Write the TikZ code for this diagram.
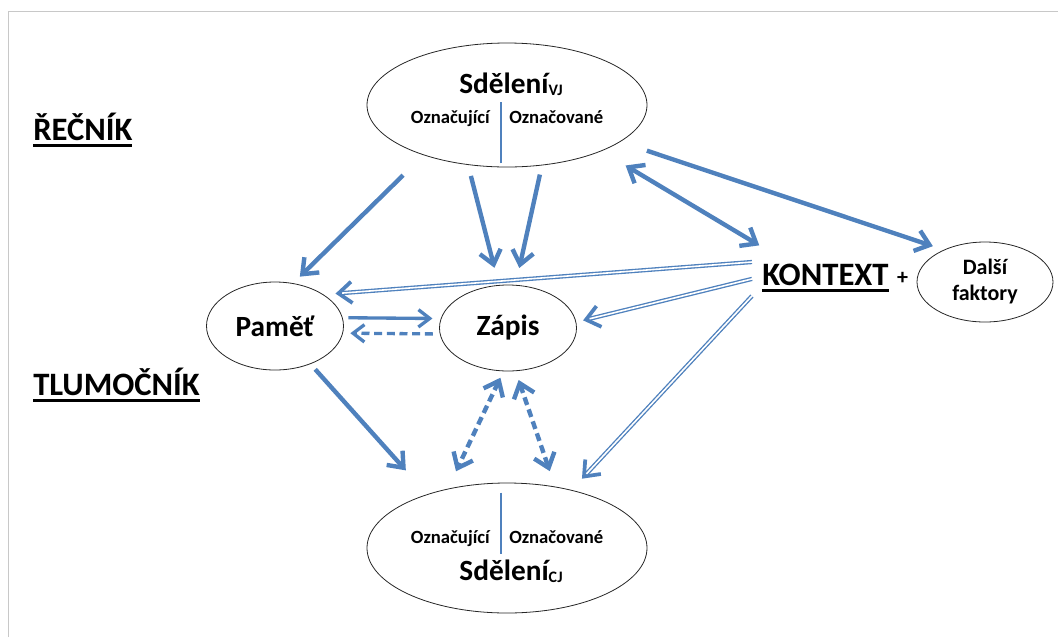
\documentclass[tikz,border=0pt]{standalone}
\usepackage{fontspec}
\setmainfont{Carlito}
\usetikzlibrary{arrows.meta,shapes.geometric}
\definecolor{modra}{RGB}{79,129,189}
\definecolor{sediva}{RGB}{200,200,200}
\newcommand{\velky}{\fontsize{24.5}{29}\selectfont\bfseries}
\newcommand{\stred}{\fontsize{22}{26}\selectfont\bfseries}
\newcommand{\maly}{\fontsize{12}{14}\selectfont\bfseries}
\newcommand{\drobny}{\fontsize{14}{17}\selectfont\bfseries}
\newcommand{\faktor}{\fontsize{16.5}{19.5}\selectfont\bfseries}
\newcommand{\podtrh}[1]{\setbox0=\hbox{#1}\rlap{\rule[-5pt]{\wd0}{1.8pt}}\box0}
\tikzset{
  elipsa/.style={draw=black!85, line width=0.6pt, ellipse, inner sep=1pt},
  popis/.style={inner sep=0pt},
  sipka/.style={draw=modra, line width=3.3pt, -{Straight Barb[length=10pt,width=16pt]}},
  obe/.style={draw=modra, line width=3.3pt, {Straight Barb[length=10pt,width=16pt]}-{Straight Barb[length=10pt,width=16pt]}},
  tenka/.style={draw=modra, line width=2.5pt, -{Straight Barb[length=8.5pt,width=13pt]}},
  carky/.style={dash pattern=on 6pt off 3.5pt},
  % dvojita cara: modry spodek se spickou a bily stred pres nej
  dvoj/.style={draw=modra, line width=3.2pt, -{Straight Barb[length=10pt,width=16pt,line width=2.8pt]}},
  dvojstred/.style={draw=white, line width=1.2pt},
  delici/.style={draw=modra, line width=0.8pt},
  ram/.style={draw=sediva, line width=1.3pt}
}
\begin{document}
\begin{tikzpicture}[x=0.75pt, y=-0.75pt]
\useasboundingbox (0,0) rectangle (1058,637);
\draw[ram] (8.5,637) -- (8.5,11.5) -- (1058,11.5);

% elipsy
\node[elipsa, minimum width=210pt, minimum height=93pt] (sv) at (507,105) {};
\node[elipsa, minimum width=210pt, minimum height=97.5pt] (sc) at (507,548) {};
\node[elipsa, minimum width=102.75pt, minimum height=66pt, font=\stred] (pam) at (275,326) {Paměť};
\node[elipsa, minimum width=102.75pt, minimum height=64.5pt, font=\stred] (zap) at (508,328) {Zápis};
\node[elipsa, minimum width=102pt, minimum height=60pt, align=center, font=\faktor] (dal) at (985,282) {Další\\faktory};

% texty v elipsach
\node[popis, anchor=base] (svnadpis) at (511,93) {\stred Sdělení\raisebox{-2pt}{\maly VJ}};
\node[popis, anchor=base east] (svl) at (490,123) {\drobny Označující};
\node[popis, anchor=base west] (svp) at (509,123) {\drobny Označované};
\draw[delici] (sv.south) ++(-6,-4) -- ++(0,-61);

\node[popis, anchor=base east] (scl) at (490,543) {\drobny Označující};
\node[popis, anchor=base west] (scp) at (509,543) {\drobny Označované};
\node[popis, anchor=base] (scnadpis) at (511,580) {\stred Sdělení\raisebox{-2pt}{\maly CJ}};
\draw[delici] (sc.north) ++(-6,10) -- ++(0,61);

% nadpisy
\node[popis, anchor=base west] (recnik) at (33,140) {\velky\podtrh{ŘEČNÍK}};
\node[popis, anchor=base west] (tlumocnik) at (33,395) {\velky\podtrh{TLUMOČNÍK}};
\node[anchor=base west, inner xsep=7.5pt, inner ysep=0pt, minimum height=48pt] (kon) at (752,285) {\velky\podtrh{KONTEXT}};
\node[popis] (plus) at (902.5,278) {\faktor +};

\path
    (sv.211) edge[sipka, shorten <=21.5pt, shorten >=7pt] (pam.67)
    (sv.237) edge[sipka, shorten <=8.5pt, shorten >=13.3pt] (zap.102)
    (sv.300) edge[sipka, shorten <=7pt, shorten >=13pt] (zap.80)
    (sv.334) edge[obe, shorten <=21pt] (kon.154)
    (sv.342) edge[sipka, shorten <=21pt, shorten >=8.6pt] (dal.142)

    (kon.168) edge[dvoj, shorten >=9pt] (pam.33)
    (kon.168) edge[dvojstred, shorten <=-1pt, shorten >=14pt] (pam.33)
    (kon.181) edge[dvoj, shorten >=5.3pt] (zap.5)
    (kon.181) edge[dvojstred, shorten <=-1pt, shorten >=10.3pt] (zap.5)
    (kon.194) edge[dvoj, shorten >=11.5pt] (sc.42)
    (kon.194) edge[dvojstred, shorten <=-1pt, shorten >=16.5pt] (sc.42)

    (pam.7)   edge[tenka, shorten <=4.3pt, shorten >=6.2pt] (zap.172)
    (zap.185) edge[tenka, carky, shorten <=5.2pt, shorten >=5.5pt] (pam.354)
    (pam.313) edge[sipka, shorten <=5.3pt, shorten >=24pt] (sc.146)

    (zap.264) edge[obe, carky, shorten <=5.3pt, shorten >=14.5pt] (sc.135)
    (zap.280) edge[obe, carky, shorten <=7pt, shorten >=12.2pt] (sc.52);
\end{tikzpicture}
\end{document}
